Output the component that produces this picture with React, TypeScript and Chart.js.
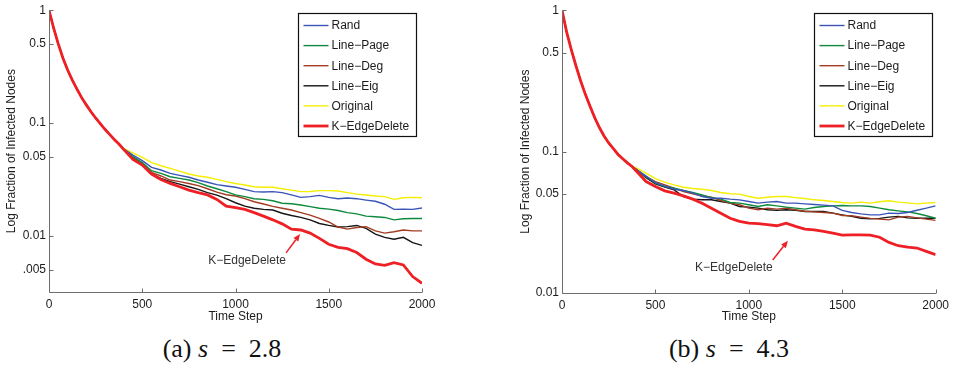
import React, { useEffect, useRef } from "react";
import { Chart, registerables } from "chart.js";

Chart.register(...registerables);

// ---------- data ----------
const TIME = [
  0, 25, 50, 75, 100, 125, 150, 175, 200, 225, 250, 275, 300, 325, 350, 375,
  400, 450, 500, 550, 600, 650, 700, 750, 800, 850, 900, 950, 1000, 1050, 1100,
  1150, 1200, 1250, 1300, 1350, 1400, 1450, 1500, 1550, 1600, 1650, 1700, 1750,
  1800, 1850, 1900, 1950, 2000,
];

const SERIES_NAMES = [
  "Rand",
  "Line\u2212Page",
  "Line\u2212Deg",
  "Line\u2212Eig",
  "Original",
  "K\u2212EdgeDelete",
];

// panel (a) s = 2.8
const EARLY_A = [1, 0.692, 0.501, 0.376, 0.295, 0.24, 0.2, 0.168, 0.145, 0.126, 0.111, 0.0989, 0.0881, 0.0794, 0.0716, 0.0653];
const RAND_A = [0.0593, 0.0521, 0.0465, 0.0405, 0.0384, 0.0359, 0.0344, 0.0331, 0.0313, 0.0299, 0.0285, 0.0277, 0.027, 0.0259, 0.0247, 0.0245, 0.0247, 0.0242, 0.0231, 0.022, 0.0223, 0.0229, 0.022, 0.0214, 0.0217, 0.0214, 0.0208, 0.0203, 0.0191, 0.0172, 0.0173, 0.0172, 0.0177];
const PAGE_A = [0.0589, 0.0504, 0.0446, 0.0379, 0.0359, 0.0335, 0.0324, 0.0313, 0.0297, 0.0277, 0.0262, 0.0247, 0.0231, 0.0223, 0.0214, 0.0211, 0.0205, 0.0195, 0.0193, 0.0188, 0.0182, 0.0176, 0.0173, 0.0168, 0.0161, 0.0157, 0.015, 0.0148, 0.0146, 0.0139, 0.0142, 0.0143, 0.0143];
const DEG_A = [0.0589, 0.0497, 0.044, 0.0366, 0.034, 0.0313, 0.0303, 0.0292, 0.0279, 0.0262, 0.0245, 0.0232, 0.0226, 0.0214, 0.0201, 0.0192, 0.0183, 0.0176, 0.017, 0.0161, 0.0153, 0.0143, 0.0133, 0.012, 0.0115, 0.0119, 0.0121, 0.0111, 0.0106, 0.0109, 0.0113, 0.0111, 0.0111];
const EIG_A = [0.0585, 0.049, 0.0428, 0.0354, 0.0324, 0.0303, 0.0288, 0.0273, 0.0259, 0.0242, 0.023, 0.0214, 0.0197, 0.0184, 0.0176, 0.0172, 0.017, 0.0159, 0.0152, 0.0146, 0.0139, 0.0129, 0.0124, 0.012, 0.0121, 0.0124, 0.0117, 0.0104, 0.00973, 0.00935, 0.00973, 0.00873, 0.00826];
const ORIG_A = [0.0597, 0.0546, 0.0497, 0.0446, 0.0419, 0.0397, 0.0376, 0.0354, 0.034, 0.0331, 0.0317, 0.0303, 0.0292, 0.0283, 0.0273, 0.027, 0.027, 0.0262, 0.0255, 0.0247, 0.0248, 0.0252, 0.0252, 0.025, 0.0242, 0.0235, 0.0231, 0.0226, 0.0223, 0.0211, 0.0218, 0.022, 0.0218];
const KED_A = [0.0585, 0.0477, 0.0425, 0.0354, 0.0317, 0.0292, 0.0273, 0.0255, 0.0242, 0.0231, 0.0211, 0.0184, 0.0178, 0.0172, 0.0161, 0.015, 0.0139, 0.0128, 0.0115, 0.0113, 0.0106, 0.00953, 0.00844, 0.00794, 0.00773, 0.00713, 0.00622, 0.00565, 0.0055, 0.00581, 0.00554, 0.00437, 0.00381];

// panel (b) s = 4.3
const EARLY_B = [1, 0.7, 0.525, 0.403, 0.316, 0.254, 0.209, 0.174, 0.148, 0.129, 0.115, 0.105, 0.0955, 0.0891, 0.0832, 0.0785];
const RAND_B = [0.0743, 0.067, 0.0604, 0.057, 0.0542, 0.0531, 0.0508, 0.0481, 0.0468, 0.0468, 0.0461, 0.0456, 0.0444, 0.0432, 0.0439, 0.0444, 0.0432, 0.0432, 0.0427, 0.0423, 0.0418, 0.0413, 0.0384, 0.0371, 0.0363, 0.0357, 0.0357, 0.0367, 0.0365, 0.0371, 0.0385, 0.0398, 0.0413];
const PAGE_B = [0.0743, 0.0666, 0.0598, 0.0566, 0.0551, 0.0531, 0.0514, 0.0494, 0.0473, 0.0461, 0.0437, 0.0432, 0.0421, 0.0409, 0.0421, 0.0413, 0.0405, 0.0398, 0.0392, 0.0402, 0.0409, 0.0413, 0.0416, 0.0413, 0.0413, 0.0409, 0.0398, 0.0388, 0.0381, 0.0375, 0.0365, 0.0352, 0.0338];
const DEG_B = [0.0743, 0.0666, 0.0614, 0.0582, 0.0551, 0.0522, 0.0503, 0.0486, 0.0476, 0.0451, 0.0432, 0.0421, 0.0398, 0.0388, 0.0398, 0.0392, 0.0398, 0.0388, 0.0379, 0.0375, 0.0371, 0.0367, 0.0353, 0.0352, 0.0344, 0.0337, 0.0333, 0.0329, 0.0344, 0.0348, 0.034, 0.0333, 0.0326];
const EIG_B = [0.0743, 0.0655, 0.0591, 0.056, 0.0536, 0.0481, 0.0461, 0.0456, 0.0456, 0.0444, 0.0432, 0.0409, 0.0405, 0.0398, 0.0388, 0.0384, 0.0388, 0.0384, 0.0377, 0.0377, 0.0377, 0.0367, 0.0357, 0.0348, 0.0338, 0.0335, 0.0337, 0.0344, 0.0348, 0.034, 0.0338, 0.0338, 0.0338];
const ORIG_B = [0.0763, 0.0703, 0.0645, 0.0608, 0.0582, 0.056, 0.0548, 0.0542, 0.0531, 0.0514, 0.0503, 0.05, 0.0481, 0.0468, 0.0476, 0.0481, 0.0481, 0.0473, 0.0466, 0.0456, 0.0451, 0.0444, 0.0437, 0.0432, 0.0439, 0.0432, 0.0442, 0.0449, 0.0439, 0.0434, 0.0427, 0.0432, 0.0437];
const KED_B = [0.0723, 0.0614, 0.0566, 0.0528, 0.0508, 0.0486, 0.0461, 0.0432, 0.0398, 0.0367, 0.0338, 0.0321, 0.0312, 0.0309, 0.0304, 0.0299, 0.0312, 0.0296, 0.0283, 0.028, 0.0273, 0.0265, 0.0257, 0.0258, 0.0258, 0.0257, 0.0248, 0.0228, 0.0216, 0.0211, 0.0208, 0.0197, 0.0187];

const X_TICKS = [0, 500, 1000, 1500, 2000];
const Y_TICKS_A = [1, 0.5, 0.1, 0.05, 0.01, 0.005];
const Y_LABELS_A = ["1", "0.5", "0.1", "0.05", "0.01", ".005"];
const Y_TICKS_B = [1, 0.5, 0.1, 0.05, 0.01];
const Y_LABELS_B = ["1", "0.5", "0.1", "0.05", "0.01"];
const Y_MIN_A = 0.00319;
const Y_MIN_B = 0.01;
const Y_MAX = 1;

const X_TITLE = "Time Step";
const Y_TITLE = "Log Fraction of Infected Nodes";
const ANNOT_TEXT = "K\u2212EdgeDelete";
// annotation anchors in data coordinates (time, fraction)
const ANNOT_A = { textT: 1062, textV: 0.006, tailT: 1271, tailV: 0.00708, headT: 1346, headV: 0.0104 };
const ANNOT_B = { textT: 920, textV: 0.01504, tailT: 1128, tailV: 0.01714, headT: 1209, headV: 0.0234 };

// ---------- styles ----------
const COLORS = ["#3a55b6", "#0e8a3e", "#a43c22", "#151515", "#f4ee00", "#ee2026"];
const WIDTHS = [1.4, 1.4, 1.4, 1.4, 1.4, 2.8];
const DRAW_ORDER = [2, 3, 4, 5, 6, 0];
const AXIS_COLOR = "#6e6e6e";
const TEXT_COLOR = "#1c1c1c";
const FONT_FAMILY = "'Liberation Sans', Arial, Helvetica, sans-serif";

type Panel = {
  series: number[][];
  early: number[];
  yMin: number;
  yTicks: number[];
  yLabels: string[];
  annot: { textT: number; textV: number; tailT: number; tailV: number; headT: number; headV: number };
  padLeft: number;
  yWidth: number;
  padRight: number;
  xHeight: number;
  legendRightGap: number;
};

const CANVAS_W = 477;
const CANVAS_H = 324;

const PANEL_A: Panel = {
  series: [RAND_A, PAGE_A, DEG_A, EIG_A, ORIG_A, KED_A],
  early: EARLY_A,
  yMin: Y_MIN_A,
  yTicks: Y_TICKS_A,
  yLabels: Y_LABELS_A,
  annot: ANNOT_A,
  padLeft: 0,
  yWidth: 49,
  padRight: 55,
  xHeight: 32,
  legendRightGap: 6,
};

const PANEL_B: Panel = {
  series: [RAND_B, PAGE_B, DEG_B, EIG_B, ORIG_B, KED_B],
  early: EARLY_B,
  yMin: Y_MIN_B,
  yTicks: Y_TICKS_B,
  yLabels: Y_LABELS_B,
  annot: ANNOT_B,
  padLeft: 37,
  yWidth: 48,
  padRight: 18,
  xHeight: 31,
  legendRightGap: 4,
};

function decorPlugin(p: Panel) {
  return {
    id: "panelDecor",
    afterDatasetsDraw(chart: any) {
      const { ctx, chartArea: a, scales } = chart;
      const xs = scales.x;
      const ys = scales.y;
      ctx.save();

      // axes lines + inward ticks
      ctx.strokeStyle = AXIS_COLOR;
      ctx.lineWidth = 1;
      ctx.beginPath();
      const L = Math.round(a.left) + 0.5;
      const B = Math.round(a.bottom) + 0.5;
      ctx.moveTo(L, Math.round(a.top));
      ctx.lineTo(L, B);
      ctx.lineTo(Math.round(a.right), B);
      X_TICKS.forEach((v) => {
        const px = Math.round(xs.getPixelForValue(v)) + 0.5;
        ctx.moveTo(px, B);
        ctx.lineTo(px, B - 4);
      });
      p.yTicks.forEach((v) => {
        const py = Math.round(ys.getPixelForValue(v)) + 0.5;
        ctx.moveTo(L, py);
        ctx.lineTo(L + 4, py);
      });
      ctx.stroke();

      // annotation
      const an = p.annot;
      ctx.fillStyle = "#333";
      ctx.font = `12px ${FONT_FAMILY}`;
      ctx.textAlign = "center";
      ctx.textBaseline = "middle";
      ctx.fillText(ANNOT_TEXT, xs.getPixelForValue(an.textT), ys.getPixelForValue(an.textV));
      const x0 = xs.getPixelForValue(an.tailT);
      const y0 = ys.getPixelForValue(an.tailV);
      const x1 = xs.getPixelForValue(an.headT);
      const y1 = ys.getPixelForValue(an.headV);
      const ang = Math.atan2(y1 - y0, x1 - x0);
      const hl = 7;
      const hw = 3;
      ctx.strokeStyle = COLORS[5];
      ctx.fillStyle = COLORS[5];
      ctx.lineWidth = 1.5;
      ctx.beginPath();
      ctx.moveTo(x0, y0);
      ctx.lineTo(x1 - hl * Math.cos(ang), y1 - hl * Math.sin(ang));
      ctx.stroke();
      ctx.beginPath();
      ctx.moveTo(x1, y1);
      ctx.lineTo(x1 - hl * Math.cos(ang) + hw * Math.sin(ang), y1 - hl * Math.sin(ang) - hw * Math.cos(ang));
      ctx.lineTo(x1 - hl * Math.cos(ang) - hw * Math.sin(ang), y1 - hl * Math.sin(ang) + hw * Math.cos(ang));
      ctx.closePath();
      ctx.fill();

      // legend box
      const bw = 118;
      const bh = 123;
      const bx = Math.round(a.right - p.legendRightGap - bw) + 0.5;
      const by = Math.round(a.top + 3) + 0.5;
      ctx.fillStyle = "#ffffff";
      ctx.fillRect(bx, by, bw, bh);
      ctx.strokeStyle = "#111";
      ctx.lineWidth = 1.2;
      ctx.strokeRect(bx, by, bw, bh);
      ctx.font = `12px ${FONT_FAMILY}`;
      ctx.textAlign = "left";
      ctx.textBaseline = "middle";
      chart.data.datasets.forEach((ds: any, i: number) => {
        const ry = by + 12 + i * 20.1;
        ctx.strokeStyle = ds.borderColor;
        ctx.lineWidth = ds.borderWidth;
        ctx.beginPath();
        ctx.moveTo(bx + 5, ry);
        ctx.lineTo(bx + 30, ry);
        ctx.stroke();
        ctx.fillStyle = TEXT_COLOR;
        ctx.fillText(ds.label, bx + 33, ry + 0.5);
      });

      ctx.restore();
    },
  };
}

function buildConfig(p: Panel): any {
  const datasets = SERIES_NAMES.map((name, i) => ({
    label: name,
    data: TIME.map((t, k) => ({ x: t, y: k < p.early.length ? p.early[k] : p.series[i][k - p.early.length] })),
    borderColor: COLORS[i],
    backgroundColor: COLORS[i],
    borderWidth: WIDTHS[i],
    pointRadius: 0,
    tension: 0,
    fill: false,
    order: DRAW_ORDER[i],
  }));
  const tickFont = { family: FONT_FAMILY, size: 12 };
  const noGrid = { display: false, drawTicks: false, tickLength: 0 };
  return {
    type: "line",
    data: { datasets },
    options: {
      animation: false,
      responsive: false,
      maintainAspectRatio: false,
      events: [],
      layout: { padding: { left: p.padLeft, right: p.padRight, top: 10, bottom: 0 } },
      plugins: { legend: { display: false }, tooltip: { enabled: false }, title: { display: false } },
      scales: {
        x: {
          type: "linear",
          min: 0,
          max: 2000,
          grid: noGrid,
          border: { display: false },
          afterBuildTicks: (s: any) => {
            s.ticks = X_TICKS.map((v) => ({ value: v }));
          },
          afterFit: (s: any) => {
            s.height = p.xHeight;
          },
          ticks: {
            autoSkip: false,
            maxRotation: 0,
            padding: 5,
            color: TEXT_COLOR,
            font: tickFont,
            callback: (v: any) => String(v),
          },
          title: {
            display: true,
            text: X_TITLE,
            color: TEXT_COLOR,
            font: tickFont,
            padding: { top: 0, bottom: 0 },
          },
        },
        y: {
          type: "logarithmic",
          min: p.yMin,
          max: Y_MAX,
          grid: noGrid,
          border: { display: false },
          afterBuildTicks: (s: any) => {
            s.ticks = p.yTicks.map((v) => ({ value: v }));
          },
          afterFit: (s: any) => {
            s.width = p.yWidth;
          },
          ticks: {
            autoSkip: false,
            padding: 3,
            color: TEXT_COLOR,
            font: tickFont,
            callback: (v: any) => {
              const idx = p.yTicks.findIndex((t) => Math.abs(t - v) < t * 1e-6);
              return idx >= 0 ? p.yLabels[idx] : "";
            },
          },
          title: {
            display: true,
            text: Y_TITLE,
            color: TEXT_COLOR,
            font: tickFont,
            padding: { top: 4, bottom: 0 },
          },
        },
      },
    },
    plugins: [decorPlugin(p)],
  };
}

function PanelChart({ panel, left }: { panel: Panel; left: number }) {
  const ref = useRef<HTMLCanvasElement | null>(null);
  useEffect(() => {
    if (!ref.current) return;
    const chart = new Chart(ref.current, buildConfig(panel));
    return () => chart.destroy();
  }, [panel]);
  return (
    <canvas
      ref={ref}
      width={CANVAS_W}
      height={CANVAS_H}
      style={{ position: "absolute", left, top: 0, width: CANVAS_W, height: CANVAS_H }}
    />
  );
}

const captionStyle = (center: number): React.CSSProperties => ({
  position: "absolute",
  left: center - 100,
  width: 200,
  top: 334,
  textAlign: "center",
  fontFamily: "'Liberation Serif', 'Times New Roman', serif",
  fontSize: 26,
  lineHeight: "30px",
  color: "#111",
  whiteSpace: "nowrap",
});

export default function App() {
  return (
    <div style={{ position: "absolute", left: 0, top: 0, width: 954, height: 370, background: "#fff", overflow: "hidden" }}>
      <PanelChart panel={PANEL_A} left={0} />
      <PanelChart panel={PANEL_B} left={477} />
      <div style={captionStyle(222)}>
        (a) <i>s</i>&nbsp;&nbsp;=&nbsp;&nbsp;2.8
      </div>
      <div style={captionStyle(729)}>
        (b) <i>s</i>&nbsp;&nbsp;=&nbsp;&nbsp;4.3
      </div>
    </div>
  );
}
